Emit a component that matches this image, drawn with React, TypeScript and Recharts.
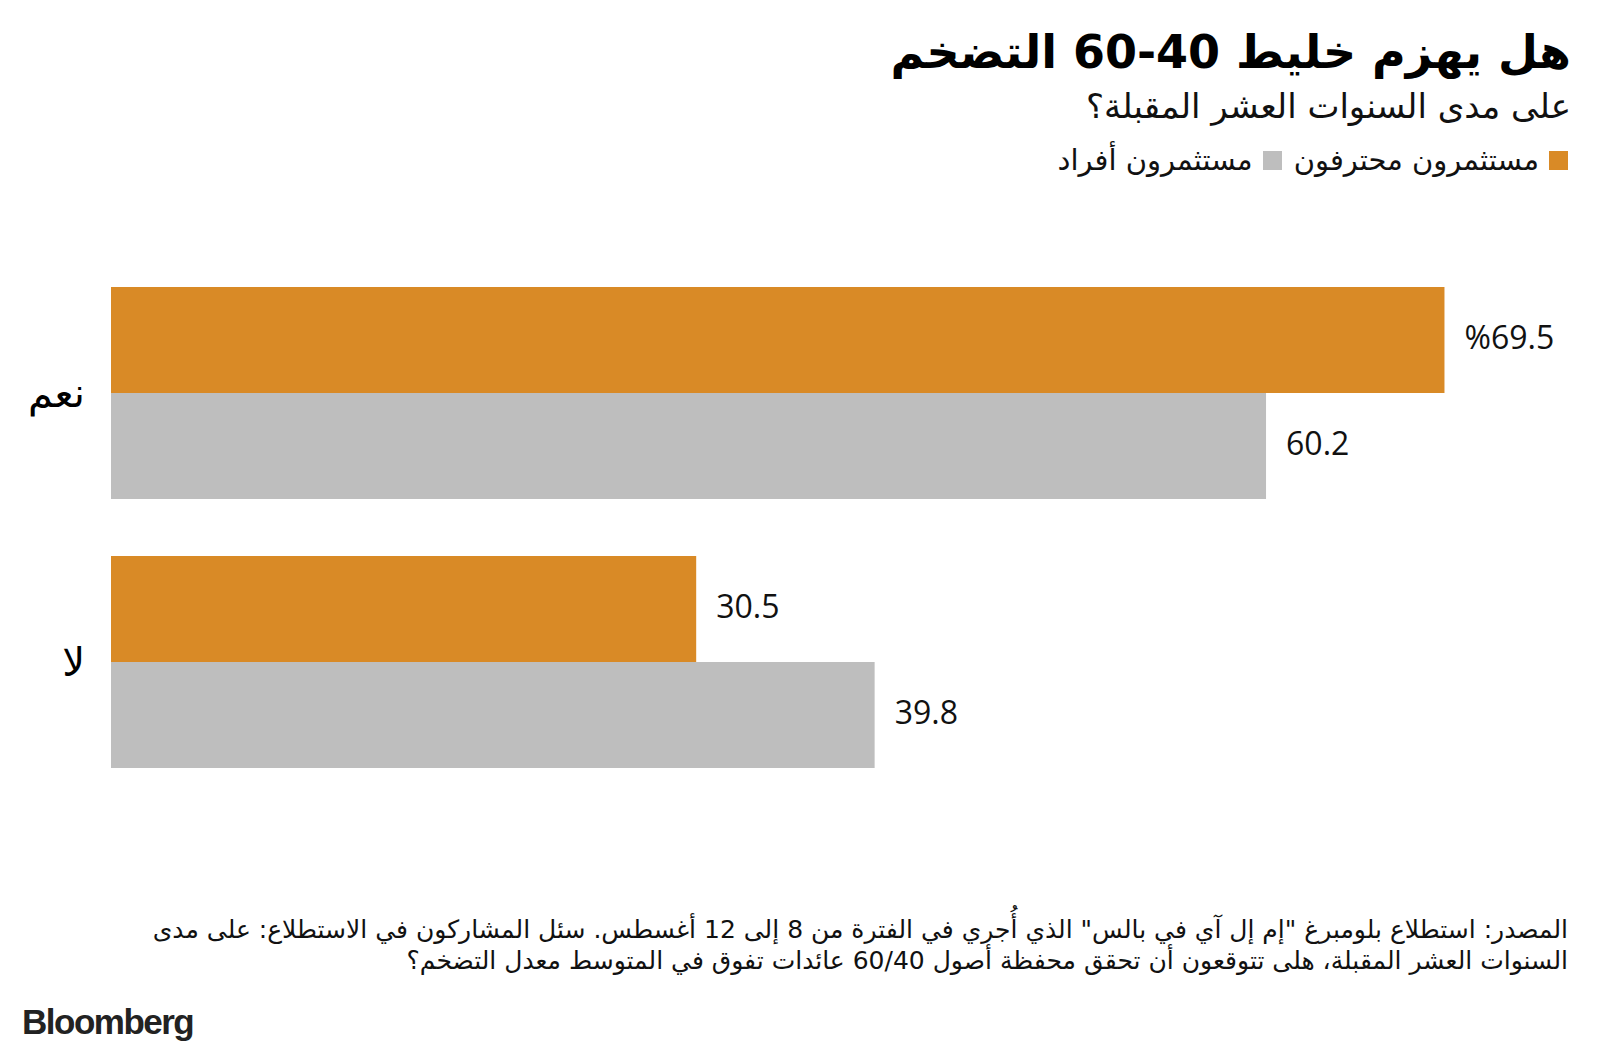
import React from 'react';
import { BarChart, Bar, XAxis, YAxis, LabelList } from 'recharts';

const categories = ['نعم', 'لا'];
const professional = [69.5, 30.5];
const individual = [60.2, 39.8];
const seriesNames = ['مستثمرون محترفون', 'مستثمرون أفراد'];
const seriesColors = ['#D98A26', '#BEBEBE'];

const data = categories.map((name, i) => ({
  name,
  pro: professional[i],
  ind: individual[i],
}));

const ARABIC = '"DejaVu Sans", "Noto Sans", sans-serif';
const NUM = '"Open Sans", "DejaVu Sans", sans-serif';

const valueLabel = (withPercent: boolean) => (props: any) => {
  const { x, y, width, height, value, index } = props;
  const text = withPercent && index === 0 ? `%${value}` : `${value}`;
  return (
    <text
      x={Number(x) + Number(width) + 20}
      y={Number(y) + Number(height) / 2 - 4}
      dominantBaseline="central"
      fontFamily={NUM}
      fontSize={32}
      fill="#111"
      direction="ltr"
    >
      {text}
    </text>
  );
};

export default function App() {
  return (
    <div style={{ position: 'absolute', left: 0, top: 0, width: 1600, height: 1057, background: '#fff', overflow: 'hidden' }}>
      <div style={{ position: 'absolute', right: 29, top: 20, direction: 'rtl', fontFamily: ARABIC, fontWeight: 'bold', fontSize: 46, lineHeight: '64px', color: '#000', whiteSpace: 'nowrap' }}>
        هل يهزم خليط <span dir="ltr" style={{ unicodeBidi: 'isolate' }}>60-40</span> التضخم
      </div>
      <div style={{ position: 'absolute', right: 29, top: 84, direction: 'rtl', fontFamily: ARABIC, fontSize: 34, lineHeight: '44px', color: '#111', whiteSpace: 'nowrap' }}>
        على مدى السنوات العشر المقبلة؟
      </div>
      <div style={{ position: 'absolute', right: 32, top: 141, display: 'flex', direction: 'rtl', alignItems: 'center', fontFamily: ARABIC, fontSize: 29, lineHeight: '38px', color: '#111', whiteSpace: 'nowrap' }}>
        {seriesNames.map((n, i) => (
          <div key={n} style={{ display: 'flex', alignItems: 'center', marginLeft: 12 }}>
            <span style={{ width: 19, height: 19, background: seriesColors[i], display: 'inline-block', marginLeft: 10 }} />
            <span>{n}</span>
          </div>
        ))}
      </div>
      <BarChart
        width={1600}
        height={1057}
        data={data}
        layout="vertical"
        barGap={0}
        barSize={106}
        margin={{ top: 258, right: 50, bottom: 261, left: 0 }}
      >
        <XAxis type="number" domain={[0, 75]} hide />
        <YAxis
          type="category"
          dataKey="name"
          width={111}
          axisLine={false}
          tickLine={false}
          tickSize={0}
          tickMargin={26}
          tick={{ fill: '#000', fontSize: 40, fontFamily: ARABIC }}
        />
        <Bar dataKey="pro" name={seriesNames[0]} fill={seriesColors[0]} isAnimationActive={false}>
          <LabelList dataKey="pro" content={valueLabel(true)} />
        </Bar>
        <Bar dataKey="ind" name={seriesNames[1]} fill={seriesColors[1]} isAnimationActive={false}>
          <LabelList dataKey="ind" content={valueLabel(false)} />
        </Bar>
      </BarChart>
      <div style={{ position: 'absolute', right: 32, top: 914, direction: 'rtl', fontFamily: ARABIC, fontSize: 25, lineHeight: '31px', color: '#111', whiteSpace: 'nowrap', textAlign: 'right' }}>
        <div>المصدر: استطلاع بلومبرغ "إم إل آي في بالس" الذي أُجري في الفترة من 8 إلى 12 أغسطس. سئل المشاركون في الاستطلاع: على مدى</div>
        <div>السنوات العشر المقبلة، هلى تتوقعون أن تحقق محفظة أصول <span dir="ltr" style={{ unicodeBidi: 'isolate' }}>60/40</span> عائدات تفوق في المتوسط معدل التضخم؟</div>
      </div>
      <div style={{ position: 'absolute', left: 22, top: 1002, fontFamily: '"Liberation Sans", Arial, sans-serif', fontWeight: 'bold', fontSize: 35, letterSpacing: -1.5, color: '#222' }}>
        Bloomberg
      </div>
    </div>
  );
}
